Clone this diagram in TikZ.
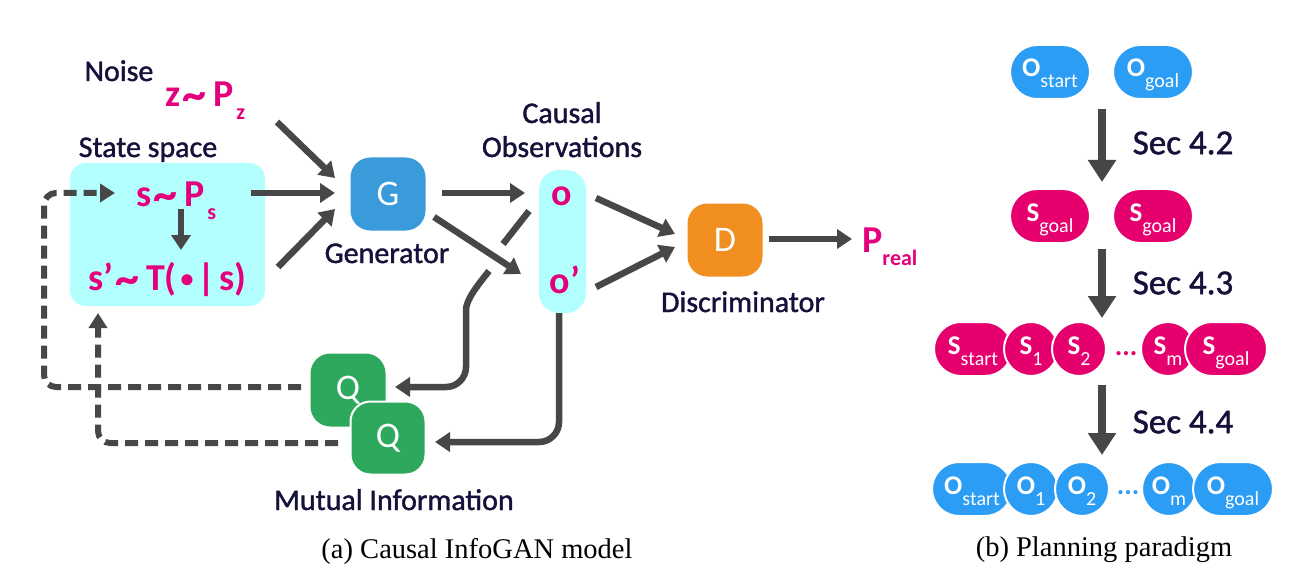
\documentclass[tikz,border=0pt]{standalone}
\usepackage{fontspec}
\setmainfont{Carlito}
\newfontfamily\labfont[FakeBold=1.3]{Carlito}
\newfontfamily\capfont{Liberation Serif}
\usetikzlibrary{arrows.meta}
\definecolor{mag}{HTML}{E4007C}
\definecolor{pillmag}{HTML}{E6006E}
\definecolor{cyanbox}{HTML}{B3FFFE}
\definecolor{gblue}{HTML}{3A9BDB}
\definecolor{qgreen}{HTML}{2EA85C}
\definecolor{dorange}{HTML}{F08F1F}
\definecolor{pillblue}{HTML}{2B9DF5}
\definecolor{arr}{HTML}{474747}
\definecolor{navy}{HTML}{14113A}
\newcommand\msub[1]{\hspace{3pt}\raisebox{-13pt}{\fontsize{22}{22}\selectfont\bfseries #1}}
\newcommand\psub[1]{\raisebox{-11pt}{\fontsize{20}{20}\selectfont #1}}
\newcommand\plab[2]{{\fontsize{27}{27}\selectfont\bfseries #1}\psub{#2}}
\newcommand\smbullet{\raisebox{3pt}{\fontsize{26}{26}\selectfont\textbullet}}
\newcommand\bigtld{\hspace{2pt}\raisebox{-4pt}{\fontsize{48}{48}\selectfont\char"007E}\hspace{7pt}}
\tikzset{
  lbl/.style={text=navy, font=\labfont\fontsize{30}{32}\selectfont, inner sep=0},
  mth/.style={text=mag, font=\fontsize{38}{40}\selectfont\bfseries, inner sep=0},
  netbox/.style={rounded corners=20pt, minimum width=75pt, minimum height=73pt, text=white, font=\fontsize{36}{36}\selectfont, inner sep=0},
  flow/.style={draw=arr, line width=6.5pt, -{Triangle[length=15pt,width=19pt]}},
  plainline/.style={draw=arr, line width=6.5pt},
  dashflow/.style={draw=arr, line width=6pt, dash pattern=on 13pt off 7pt, -{Triangle[length=15pt,width=18pt]}},
  bigflow/.style={draw=arr, line width=8pt, -{Triangle[length=22pt,width=27pt]}},
  pill/.style={rounded corners=27pt, minimum width=80pt, minimum height=54pt, draw=white, line width=2pt, text=white, inner sep=0, text height=20pt, text depth=10pt},
  circ/.style={circle, minimum size=54pt, draw=white, line width=2pt, text=white, inner sep=0, text height=20pt, text depth=10pt},
  sectxt/.style={text=navy, font=\labfont\fontsize{35}{36}\selectfont, inner sep=0},
  captxt/.style={font=\capfont\fontsize{28.5}{30}\selectfont, inner sep=0},
}
\begin{document}
\begin{tikzpicture}[x=1pt,y=-1pt]
\useasboundingbox[fill=white] (0,0) rectangle (1300,580);

% ---------- (a) left panel ----------
\node[lbl, anchor=base] (noise) at (119,81) {Noise};
\node[mth, anchor=base west] (zP) at (165,107) {z\bigtld P\msub{z}};
\node[lbl, anchor=base] (state) at (148,157) {State space};
\node[fill=cyanbox, rounded corners=16pt, minimum width=195pt, minimum height=143pt, inner sep=0] (sbox) at (167.5,234.5) {};
\node[mth, anchor=base west] (sP) at (136,207) {s\bigtld P\msub{s}};
\node[mth, anchor=base west] (sT) at (88,290) {s’\bigtld T(\hspace{4pt}\smbullet\hspace{4pt}|\hspace{4pt}s)};

\node[netbox, fill=gblue] (G) at (388,194) {G};
\node[lbl, anchor=base] (gen) at (387,263) {Generator};

\node[lbl, anchor=base] (causal) at (562,123) {Causal};
\node[lbl, anchor=base] (obs) at (562,157) {Observations};
\node[fill=cyanbox, rounded corners=20pt, minimum width=47pt, minimum height=143pt, inner sep=0] (obox) at (562.5,241.5) {};
\node[mth, anchor=base] (o) at (562,205) {o};
\node[mth, anchor=base] (op) at (565,293) {o’};

\node[netbox, fill=dorange] (D) at (725,240) {D};
\node[lbl, anchor=base] (disc) at (743,312) {Discriminator};
\node[mth, anchor=base west] (Preal) at (862,252) {P\raisebox{-13pt}{\fontsize{22}{22}\selectfont\bfseries real}};

\node[netbox, fill=qgreen] (Q1) at (348,390) {Q};
\node[netbox, fill=qgreen, draw=white, line width=2pt] (Q2) at (388,438) {Q};
\node[lbl, anchor=base] (mi) at (394,510) {Mutual Information};

% connector end points
\coordinate (zA) at (277,122);  \coordinate (zB) at (335,178);
\coordinate (sA) at (251,193);  \coordinate (sB) at (335,193);
\coordinate (tA) at (278,267);  \coordinate (tB) at (335,209);
\coordinate (dA) at (181,209);  \coordinate (dB) at (181,250);
\coordinate (goA) at (442,193); \coordinate (goB) at (525,193);
\coordinate (gpA) at (434,217); \coordinate (gpB) at (521,274);
\coordinate (odA) at (596,198); \coordinate (odB) at (675,234);
\coordinate (pdA) at (596,287); \coordinate (pdB) at (675,247);
\coordinate (drA) at (769,239); \coordinate (drB) at (852,239);
\coordinate (oqA) at (529,211); \coordinate (oqB) at (503,244);
\coordinate (oqC) at (489,271); \coordinate (oqD) at (466,330);
\coordinate (oqE) at (395,387);
\coordinate (pqA) at (559,313); \coordinate (pqB) at (435,442);
\coordinate (q1A) at (301,387); \coordinate (q1C) at (44,193); \coordinate (q1B) at (115,193);
\coordinate (q2A) at (338,443); \coordinate (q2B) at (98,313);

\draw[flow] (zA) -- (zB);
\draw[flow] (sA) -- (sB);
\draw[flow] (tA) -- (tB);
\draw[flow] (dA) -- (dB);
\draw[plainline] (oqA) -- (oqB);
\draw[flow] (goA) -- (goB);
\draw[flow] (gpA) -- (gpB);
\draw[flow] (odA) -- (odB);
\draw[flow] (pdA) -- (pdB);
\draw[flow] (drA) -- (drB);
\draw[flow, rounded corners=20pt] (oqC) .. controls (477,286) and (466,300) .. (oqD) |- (oqE);
\draw[flow, rounded corners=20pt] (pqA) |- (pqB);
\draw[dashflow, rounded corners=12pt] (q1A) -| (q1C) -- (q1B);
\draw[dashflow, rounded corners=12pt] (q2A) -| (q2B);

% ---------- (b) right panel ----------
\node[pill, fill=pillblue] (os) at (1050,72) {\plab{O}{start}};
\node[pill, fill=pillblue] (og) at (1153,72) {\plab{O}{goal}};
\node[pill, fill=pillmag] (sg1) at (1050,216) {\plab{S}{goal}};
\node[pill, fill=pillmag] (sg2) at (1153,216) {\plab{S}{goal}};

\node[pill, fill=pillmag, minimum width=78pt] (ss) at (973,349) {\plab{S}{start}};
\node[circ, fill=pillmag] (s1) at (1031,349) {\plab{S}{1}};
\node[circ, fill=pillmag] (s2) at (1079,349) {\plab{S}{2}};
\node[text=pillmag, font=\fontsize{28}{28}\selectfont\bfseries, anchor=base, inner sep=0] (sdots) at (1126,355) {...};
\node[circ, fill=pillmag] (sm) at (1168,349) {\plab{S}{m}};
\node[pill, fill=pillmag, minimum width=82pt] (sgl) at (1226,349) {\plab{S}{goal}};

\node[pill, fill=pillblue] (ost) at (972,489) {\plab{O}{start}};
\node[circ, fill=pillblue] (o1) at (1031,489) {\plab{O}{1}};
\node[circ, fill=pillblue] (o2) at (1082,489) {\plab{O}{2}};
\node[text=pillblue, font=\fontsize{28}{28}\selectfont\bfseries, anchor=base, inner sep=0] (odots) at (1128,494) {...};
\node[circ, fill=pillblue] (om) at (1169,489) {\plab{O}{m}};
\node[pill, fill=pillblue] (ogl) at (1233,489) {\plab{O}{goal}};

\coordinate (a1A) at (1102,109); \coordinate (a1B) at (1102,182);
\coordinate (a2A) at (1102,249); \coordinate (a2B) at (1102,318);
\coordinate (a3A) at (1102,385); \coordinate (a3B) at (1102,455);
\draw[bigflow] (a1A) -- (a1B);
\draw[bigflow] (a2A) -- (a2B);
\draw[bigflow] (a3A) -- (a3B);
\node[sectxt] (sec2) at (1183,143) {Sec 4.2};
\node[sectxt] (sec3) at (1183,283) {Sec 4.3};
\node[sectxt] (sec4) at (1183,422) {Sec 4.4};

% captions
\node[captxt, anchor=base] (capa) at (477,558) {(a) Causal InfoGAN model};
\node[captxt, anchor=base] (capb) at (1104,556) {(b) Planning paradigm};
\end{tikzpicture}
\end{document}
